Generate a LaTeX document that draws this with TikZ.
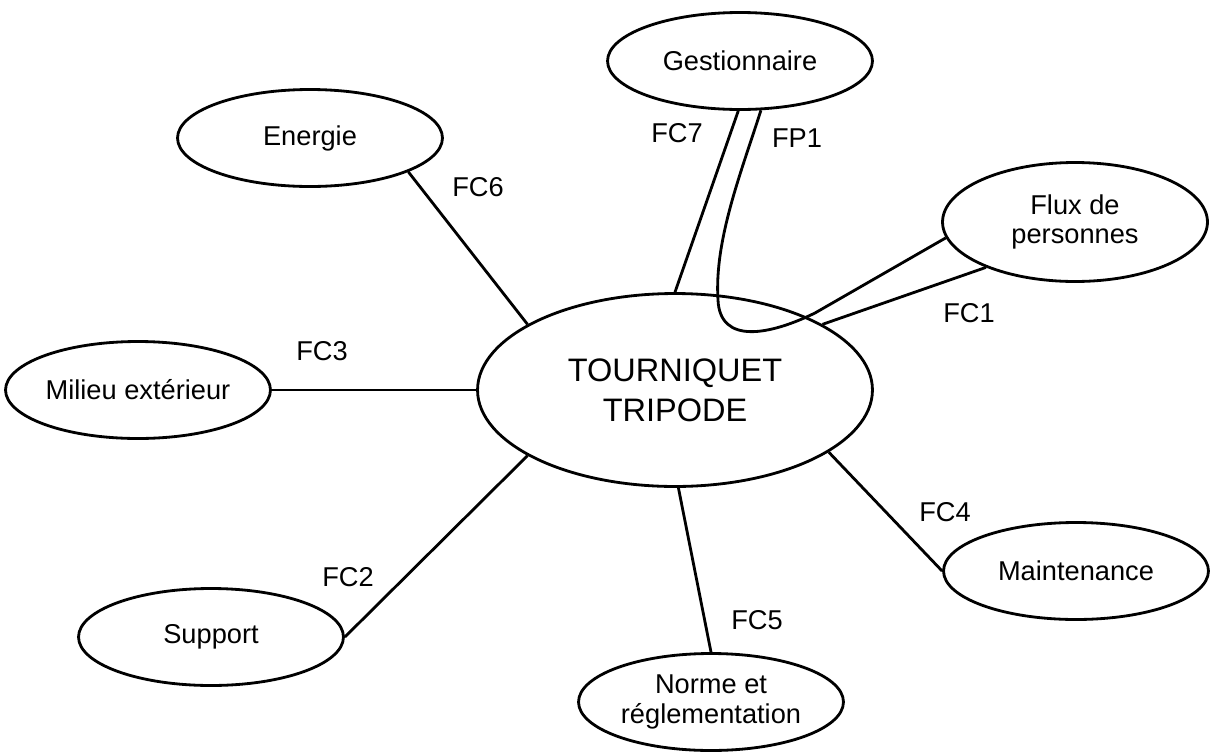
\documentclass[tikz,border=0pt]{standalone}
\usepackage{fontspec}
\setmainfont{Liberation Sans}
\usetikzlibrary{shapes.geometric}
\newcommand{\lblfont}{\fontsize{15.5}{17}\selectfont}
\newcommand{\mainfont}{\fontsize{18.5}{22.8}\selectfont}

\begin{document}
\begin{tikzpicture}[x=0.02cm,y=-0.02cm,
    bloc/.style={ellipse,draw,line width=1.6pt,minimum width=5.3cm,minimum height=1.94cm,
      inner xsep=-0.2cm,inner ysep=0pt,align=center,font=\lblfont},
    centre/.style={bloc,minimum width=7.9cm,minimum height=3.86cm,font=\mainfont},
    link/.style={line width=1.6pt},
    fc/.style={font=\lblfont,inner sep=0pt}
  ]
  \useasboundingbox (0,0) rectangle (1211,751);
  % ellipses
  \node[centre] (tour) at (675,390) {TOURNIQUET\\TRIPODE};
  \node[bloc] (gest) at (740,61) {Gestionnaire};
  \node[bloc] (energie) at (310,138) {Energie};
  \node[bloc,minimum height=2.38cm] (flux) at (1075,222) {Flux de\\personnes};
  \node[bloc] (milieu) at (138,390) {Milieu ext\'erieur};
  \node[bloc] (maint) at (1076,571) {Maintenance};
  \node[bloc] (support) at (211,637) {Support};
  \node[bloc] (norme) at (711,702) {Norme et\\r\'eglementation};
  % liaisons
  \draw[link] (energie.-19) -- (tour.156);
  \draw[link] (milieu.east) -- (tour.west);
  \draw[link] (support.east) -- (tour.204);
  \draw[link] (tour.272) -- (norme.north);
  \draw[link] (tour.-22) -- (maint.west);
  \draw[link] (tour.24) -- (flux.207);
  \draw[link] (gest.268) -- (tour.north);
  \draw[link] (gest.293) .. controls (742,170) and (714,240) .. (718,300)
    .. controls (720,345) and (770,335) .. (815,313) -- (flux.187);
  % noms des fonctions
  \node[fc] (fc6) at (478,187) {FC6};
  \node[fc] (fc3) at (322,351) {FC3};
  \node[fc] (fc2) at (348,577) {FC2};
  \node[fc] (fc5) at (757,620) {FC5};
  \node[fc] (fc4) at (945,512) {FC4};
  \node[fc] (fc1) at (969,313) {FC1};
  \node[fc] (fc7) at (677,133) {FC7};
  \node[fc] (fp1) at (797,138) {FP1};
\end{tikzpicture}
\end{document}
